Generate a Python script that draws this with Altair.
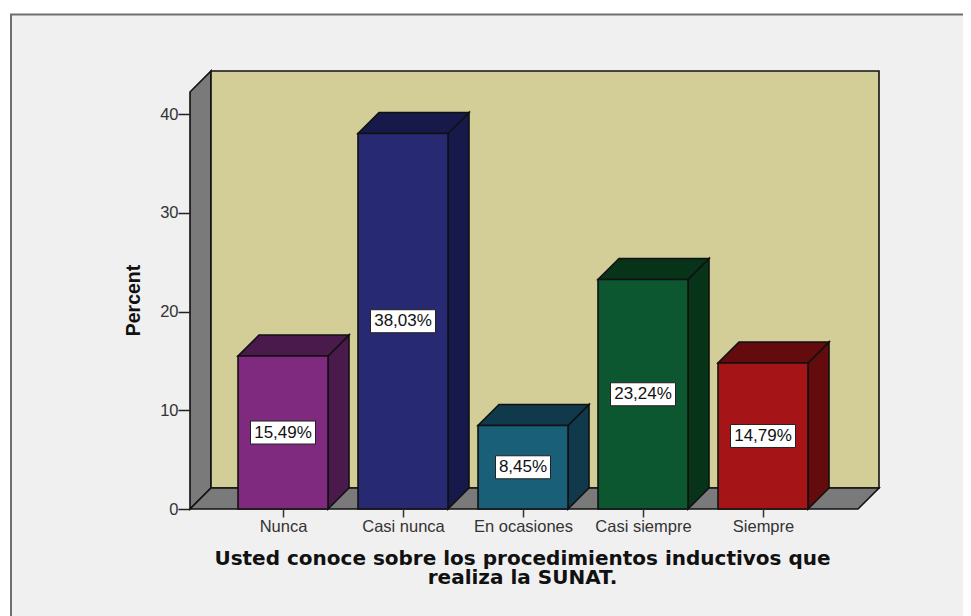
import json
import altair as alt
import pandas as pd

categories = ["Nunca", "Casi nunca", "En ocasiones", "Casi siempre", "Siempre"]
percents = [15.49, 38.03, 8.45, 23.24, 14.79]
labels = ["15,49%", "38,03%", "8,45%", "23,24%", "14,79%"]
front_colors = ["#7f2a7e", "#272a72", "#1a5f78", "#0c5730", "#a51518"]
dark_colors = ["#4b1a4c", "#17194a", "#103a4b", "#073319", "#640b0e"]
y_ticks = [0, 10, 20, 30, 40]

PLOT_W, PLOT_H = 689, 438
PX_PER_CAT = 120.0
PX_PER_UNIT = 395 / 40
X_MIN = -93 / PX_PER_CAT
X_MAX = X_MIN + PLOT_W / PX_PER_CAT
Y_MAX = PLOT_H / PX_PER_UNIT
DX = 21 / PX_PER_CAT
DY = 21 / PX_PER_UNIT
HALF = 45 / PX_PER_CAT
FRONT_R = X_MIN + 668 / PX_PER_CAT
FRONT_TOP = Y_MAX - DY

x_scale = alt.Scale(domain=[X_MIN, X_MAX], nice=False, zero=False)
y_scale = alt.Scale(domain=[0, Y_MAX], nice=False)
EDGE = "#111111"
SW = 1.6

label_expr = "%s[datum.value]" % json.dumps(categories)
x_axis = alt.Axis(
    values=list(range(len(categories))), labelExpr=label_expr, domain=False, grid=False, zindex=1,
    tickSize=8, tickColor="#333333", tickWidth=1.5, labelFont="Liberation Sans", labelFontSize=16.5,
    labelColor="#333333", labelPadding=1, labelOverlap=False,
    title=["Usted conoce sobre los procedimientos inductivos que", "realiza la SUNAT."],
    titleFont="DejaVu Sans", titleFontSize=20, titleFontWeight="bold", titleColor="#111111",
    titleAnchor="start", titleAlign="center", titleBaseline="alphabetic", titleLineHeight=19,
    titleX=332, titleY=55)
y_axis = alt.Axis(
    values=y_ticks, domain=False, grid=False, zindex=1, tickSize=12, tickColor="#222222", tickWidth=1.5,
    labelFont="Liberation Sans", labelFontSize=16.5, labelColor="#333333", labelPadding=0,
    title="Percent", titleFont="Liberation Sans", titleFontSize=19.5, titleFontWeight="bold",
    titleColor="#111111", titleAnchor="start", titleAlign="center", titleX=-47, titleY=229)


def X(f="x"):
    return alt.X(f, type="quantitative", scale=x_scale, axis=x_axis)


def Y(f="y"):
    return alt.Y(f, type="quantitative", scale=y_scale, axis=y_axis)


# frame
frame = alt.Chart(pd.DataFrame({"a": [0]})).mark_rect(
    fill="#f0f0f0", stroke="#6f6f6f", strokeWidth=2, clip=False
).encode(x=alt.value(-179), x2=alt.value(800), y=alt.value(-56.5), y2=alt.value(560))

# walls
left_wall = alt.Chart(pd.DataFrame({"x": [X_MIN, X_MIN + DX], "y": [FRONT_TOP, Y_MAX], "y2": [0, DY]})).mark_area(
    fill="#7a7a7a", stroke=EDGE, strokeWidth=SW
).encode(x=X(), y=Y(), y2="y2")
floor = alt.Chart(pd.DataFrame({"y": [0, DY], "x": [X_MIN, X_MIN + DX], "x2": [FRONT_R, X_MAX]})).mark_area(
    orient="horizontal", fill="#7a7a7a", stroke=EDGE, strokeWidth=SW
).encode(y=Y(), x=X(), x2="x2")
back = alt.Chart(pd.DataFrame({"x": [X_MIN + DX], "x2": [X_MAX], "y": [DY], "y2": [Y_MAX]})).mark_rect(
    fill="#d3ce97", stroke=EDGE, strokeWidth=SW
).encode(x=X(), x2="x2", y=Y(), y2="y2")

# bars
front_rows, side_rows, top_rows, box_rows = [], [], [], []
for i, (c, v, l, f, d) in enumerate(zip(categories, percents, labels, front_colors, dark_colors)):
    front_rows.append({"c": c, "x": i - HALF, "x2": i + HALF, "y": v, "y2": 0, "f": f})
    side_rows += [
        {"c": c, "x": i + HALF, "y": v, "y2": 0, "f": d},
        {"c": c, "x": i + HALF + DX, "y": v + DY, "y2": DY, "f": d},
    ]
    top_rows += [
        {"c": c, "y": v, "x": i - HALF, "x2": i + HALF, "f": d},
        {"c": c, "y": v + DY, "x": i - HALF + DX, "x2": i + HALF + DX, "f": d},
    ]
    hw = (27.5 if len(l) == 5 else 32.5) / PX_PER_CAT
    hh = 11.5 / PX_PER_UNIT
    box_rows.append({"x": i - hw, "x2": i + hw, "y": v / 2 - hh, "y2": v / 2 + hh, "xc": float(i), "yc": v / 2, "t": l})

fill = alt.Fill("f:N", scale=None, legend=None)
side = alt.Chart(pd.DataFrame(side_rows)).mark_area(stroke=EDGE, strokeWidth=SW).encode(
    x=X(), y=Y(), y2="y2", fill=fill, detail="c:N")
top = alt.Chart(pd.DataFrame(top_rows)).mark_area(orient="horizontal", stroke=EDGE, strokeWidth=SW).encode(
    y=Y(), x=X(), x2="x2", fill=fill, detail="c:N")
front = alt.Chart(pd.DataFrame(front_rows)).mark_rect(stroke=EDGE, strokeWidth=SW).encode(
    x=X(), x2="x2", y=Y(), y2="y2", fill=fill)
box = alt.Chart(pd.DataFrame(box_rows)).mark_rect(fill="white", stroke="#222222", strokeWidth=1).encode(
    x=X(), x2="x2", y=Y(), y2="y2")
text = alt.Chart(pd.DataFrame(box_rows)).mark_text(font="Liberation Sans", fontSize=17, color="#111111").encode(
    x=X("xc"), y=Y("yc"), text="t:N")

chart = alt.layer(frame, left_wall, back, floor, side, top, front, box, text).properties(
    width=PLOT_W, height=PLOT_H,
    padding={"left": 182, "top": 63, "right": 84, "bottom": 107},
    autosize=alt.AutoSizeParams(type="none"),
).configure_view(stroke=None)

chart.save("out.html", embed_options={"renderer": "svg", "actions": False})
